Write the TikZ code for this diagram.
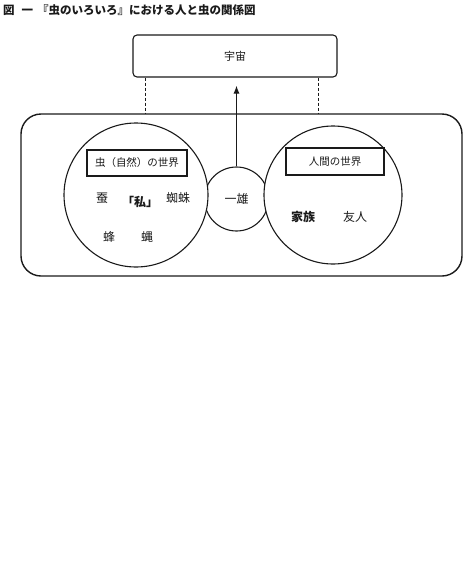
\documentclass[tikz,border=0pt]{standalone}
\usepackage{fontspec}
\setmainfont{Noto Sans CJK JP}
\usepackage{tikz}
\usetikzlibrary{arrows.meta,positioning,calc}
\definecolor{Ink}{HTML}{1A1A1A}
\tikzset{
  every node/.append style={text=Ink},
  box/.style={draw=Ink, line width=1.1pt, rounded corners=4pt, fill=white,
              minimum width=204pt, minimum height=42pt, font=\fontsize{11}{13}\selectfont},
  frame/.style={draw=Ink, line width=1.4pt, rounded corners=20pt,
              minimum width=441pt, minimum height=162pt},
  ring/.style={circle, draw=Ink, line width=1.1pt, fill=white, inner sep=0pt},
  tagbox/.style={draw=Ink, line width=1.1pt, fill=white, inner sep=0pt,
              font=\fontsize{10.5}{12}\selectfont},
  tag/.style={font=\fontsize{12}{14}\selectfont, inner sep=1pt},
  link/.style={draw=Ink, line width=1pt, dashed, dash pattern=on 3pt off 2pt},
  arrow/.style={-{Latex[length=8pt,width=6pt]}, line width=1.1pt, draw=Ink},
}
\begin{document}
\begin{tikzpicture}[x=1pt,y=-1pt]
  \useasboundingbox (0,0) rectangle (465,566);
  \node[anchor=west, font=\fontsize{11.5}{13}\selectfont\bfseries, inner sep=0pt] (title) at (3,10)
    {図\hspace{7pt}一\hspace{4pt}『虫のいろいろ』における人と虫の関係図};
  \node[box] (cosmos) at (235,56) {宇宙};
  \node[frame] (world) at (241.5,195) {};
  \coordinate (dl) at (145,0);
  \coordinate (dr) at (318,0);
  \draw[link] (cosmos.south -| dl) -- (world.north -| dl);
  \draw[link] (cosmos.south -| dr) -- (world.north -| dr);
  % the middle one first, the two worlds lie over it
  \node[ring, minimum size=64pt, tag] (kazuo) at (236.5,199) {一雄};
  \node[ring, minimum size=144pt] (insect) at (136,195) {};
  \node[ring, minimum size=138pt] (human) at (333,195) {};
  \draw[arrow, shorten >=8pt] (kazuo.north) -- (kazuo.north |- cosmos.south);
  \node[tagbox, minimum width=100pt, minimum height=26pt] (insectname) at (137,163) {虫（自然）の世界};
  \node[tagbox, minimum width=98pt, minimum height=27pt] (humanname) at (335,161.5) {人間の世界};
  \node[tag] (silkworm) at (102,198) {蚕};
  \node[tag, font=\fontsize{12}{14}\selectfont\bfseries] (me) at (140,202) {「私」};
  \node[tag] (spider) at (178,198) {蜘蛛};
  \node[tag] (bee) at (109,237) {蜂};
  \node[tag] (fly) at (147,237) {蝿};
  \node[tag, font=\fontsize{12}{14}\selectfont\bfseries] (family) at (303,217) {家族};
  \node[tag] (friend) at (355,217) {友人};
\end{tikzpicture}
\end{document}
